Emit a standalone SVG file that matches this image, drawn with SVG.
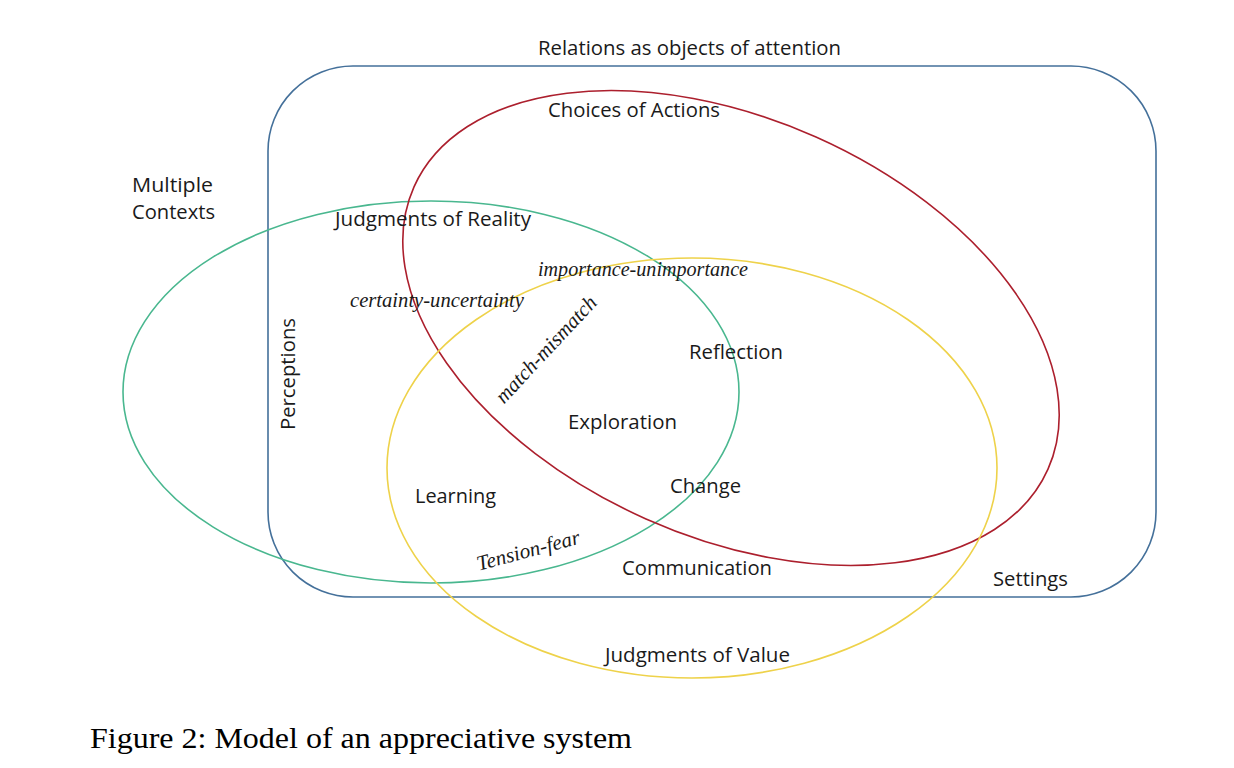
<svg xmlns="http://www.w3.org/2000/svg" width="1234" height="768" viewBox="0 0 1234 768">
<style>
.lbl{font-family:"Open Sans","Noto Sans",sans-serif;font-size:20px;fill:#1a1a1a}
.scr{font-family:"Liberation Serif","DejaVu Serif",serif;font-style:italic;font-size:21px;fill:#1a1a1a}
.cap{font-family:"Liberation Serif","Times New Roman",serif;font-size:29px;fill:#000}
.shape{fill:none;stroke-width:1.6}
</style>
<rect width="1234" height="768" fill="#fff"/>
<g id="settings">
<rect class="shape" x="268" y="66" width="888" height="531" rx="85" ry="85" stroke="#44709a" stroke-width="2.2"/>
</g>
<g id="reality">
<ellipse class="shape" cx="431" cy="392" rx="308" ry="191" stroke="#49b78f"/>
</g>
<g id="actions">
<ellipse class="shape" cx="731" cy="328" rx="347" ry="209" transform="rotate(24 731 328)" stroke="#ac1f2d" stroke-width="1.8"/>
</g>
<g id="value">
<ellipse class="shape" cx="692" cy="468" rx="305" ry="210" stroke="#eed24a"/>
</g>
<g id="labels">
<text class="lbl" x="538" y="55" textLength="303" lengthAdjust="spacingAndGlyphs">Relations as objects of attention</text>
<text class="lbl" x="548" y="117" textLength="172" lengthAdjust="spacingAndGlyphs">Choices of Actions</text>
<text class="lbl" x="132" y="192" textLength="81" lengthAdjust="spacingAndGlyphs">Multiple</text>
<text class="lbl" x="132" y="219" textLength="83" lengthAdjust="spacingAndGlyphs">Contexts</text>
<text class="lbl" x="335" y="226" textLength="196" lengthAdjust="spacingAndGlyphs">Judgments of Reality</text>
<text class="scr" x="538" y="276" textLength="210" lengthAdjust="spacingAndGlyphs">importance-unimportance</text>
<text class="scr" x="350" y="307" textLength="174" lengthAdjust="spacingAndGlyphs">certainty-uncertainty</text>
<text class="scr" x="0" y="0" text-anchor="middle" transform="translate(551,354) rotate(-47)" textLength="138" lengthAdjust="spacingAndGlyphs">match-mismatch</text>
<text class="lbl" x="0" y="0" text-anchor="middle" transform="translate(295,374) rotate(-90)" textLength="112" lengthAdjust="spacingAndGlyphs">Perceptions</text>
<text class="lbl" x="689" y="359" textLength="94" lengthAdjust="spacingAndGlyphs">Reflection</text>
<text class="lbl" x="568" y="429" textLength="109" lengthAdjust="spacingAndGlyphs">Exploration</text>
<text class="lbl" x="670" y="493" textLength="71" lengthAdjust="spacingAndGlyphs">Change</text>
<text class="lbl" x="415" y="503" textLength="81" lengthAdjust="spacingAndGlyphs">Learning</text>
<text class="scr" x="0" y="0" text-anchor="middle" transform="translate(530,557) rotate(-15)" textLength="106" lengthAdjust="spacingAndGlyphs" font-size="22">Tension-fear</text>
<text class="lbl" x="622" y="575" textLength="150" lengthAdjust="spacingAndGlyphs">Communication</text>
<text class="lbl" x="993" y="586" textLength="75" lengthAdjust="spacingAndGlyphs">Settings</text>
<text class="lbl" x="605" y="662" textLength="185" lengthAdjust="spacingAndGlyphs">Judgments of Value</text>
<text class="cap" x="90" y="748" textLength="542" lengthAdjust="spacingAndGlyphs">Figure 2: Model of an appreciative system</text>
</g>
</svg>
